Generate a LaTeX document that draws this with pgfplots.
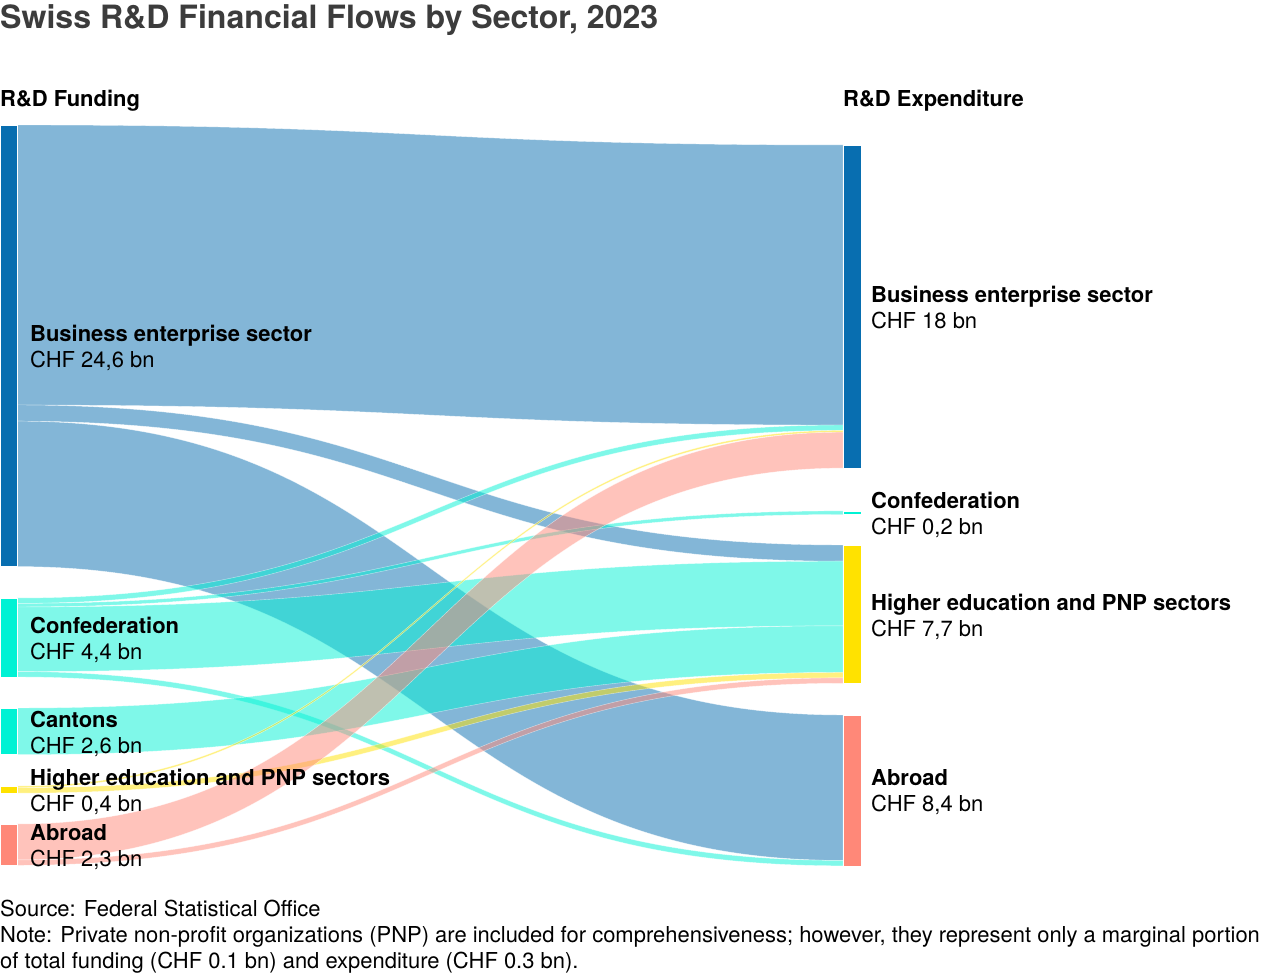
\documentclass[border=0pt]{standalone}
\usepackage{pgfplots}
\pgfplotsset{compat=1.18}
\usepackage{fontspec}
\setmainfont{TeX Gyre Heros}
\definecolor{cBus}{RGB}{8,110,176}
\definecolor{cGov}{RGB}{0,242,212}
\definecolor{cHE}{RGB}{255,226,0}
\definecolor{cAbr}{RGB}{255,136,120}
\definecolor{titlegray}{RGB}{60,60,60}

% band: colour, source top, source bottom, target top, target bottom (CHF bn)
\newcommand{\flow}[5]{%
  \fill[#1, fill opacity=0.5, draw=white, draw opacity=0.6, line width=0.4pt]
    (axis cs:17,#2) .. controls (axis cs:430,#2) and (axis cs:430,#4) .. (axis cs:843,#4)
    -- (axis cs:843,#5) .. controls (axis cs:430,#5) and (axis cs:430,#3) .. (axis cs:17,#3)
    -- cycle;}
\newcommand{\lbl}{\fontsize{22.05}{26}\selectfont}

\begin{document}
\begin{tikzpicture}
\begin{axis}[
    name=ax,
    hide axis,
    scale only axis,
    width=1280bp, height=974bp,
    xmin=0, xmax=1280,
    ymin=-6.964, ymax=47.298,
    y dir=reverse,
    clip=false,
]
\coordinate (O) at (axis cs:0,-6.964);

% flows
\flow{cBus}{0}{15.6}{1.114}{16.714}
\flow{cBus}{15.6}{16.5}{23.40}{24.30}
\flow{cBus}{16.5}{24.6}{32.87}{40.97}
\flow{cGov}{26.35}{26.65}{16.714}{17.014}
\flow{cGov}{26.65}{26.85}{21.5}{21.7}
\flow{cGov}{26.85}{30.45}{24.30}{27.90}
\flow{cGov}{30.45}{30.75}{40.97}{41.27}
\flow{cGov}{32.48}{35.08}{27.90}{30.50}
\flow{cHE}{36.82}{36.92}{17.014}{17.114}
\flow{cHE}{36.92}{37.22}{30.50}{30.80}
\flow{cAbr}{38.94}{40.94}{17.114}{19.114}
\flow{cAbr}{40.94}{41.24}{30.80}{31.10}

% funding nodes (left)
\addplot[fill=cBus, draw=white, line width=0.6pt] coordinates {(0,0) (17,0) (17,24.6) (0,24.6)} -- cycle;
\addplot[fill=cGov, draw=white, line width=0.6pt] coordinates {(0,26.35) (17,26.35) (17,30.75) (0,30.75)} -- cycle;
\addplot[fill=cGov, draw=white, line width=0.6pt] coordinates {(0,32.48) (17,32.48) (17,35.08) (0,35.08)} -- cycle;
\addplot[fill=cHE, draw=white, line width=0.6pt] coordinates {(0,36.82) (17,36.82) (17,37.22) (0,37.22)} -- cycle;
\addplot[fill=cAbr, draw=white, line width=0.6pt] coordinates {(0,38.94) (17,38.94) (17,41.24) (0,41.24)} -- cycle;
% expenditure nodes (right)
\addplot[fill=cBus, draw=white, line width=0.6pt] coordinates {(843,1.114) (861,1.114) (861,19.114) (843,19.114)} -- cycle;
\addplot[fill=cGov, draw=white, line width=0.6pt] coordinates {(843,21.5) (861,21.5) (861,21.7) (843,21.7)} -- cycle;
\addplot[fill=cHE, draw=white, line width=0.6pt] coordinates {(843,23.40) (861,23.40) (861,31.10) (843,31.10)} -- cycle;
\addplot[fill=cAbr, draw=white, line width=0.6pt] coordinates {(843,32.87) (861,32.87) (861,41.27) (843,41.27)} -- cycle;
\end{axis}

\begin{scope}[shift={(O)}, x=1bp, y=-1bp]
  \node[anchor=base west, inner sep=0pt, text=titlegray, font=\fontsize{32.2}{36}\selectfont\bfseries] at (0,29) {Swiss R\&D Financial Flows by Sector, 2023};
  \begin{scope}[every node/.style={anchor=base west, inner sep=0pt, font=\lbl}]
    \node[font=\lbl\bfseries] at (0,107) {R\&D Funding};
    \node[font=\lbl\bfseries] at (843,107) {R\&D Expenditure};
    % left labels
    \node[font=\lbl\bfseries] at (30,342) {Business enterprise sector};
    \node at (30,368) {CHF 24,6 bn};
    \node[font=\lbl\bfseries] at (30,634) {Confederation};
    \node at (30,660) {CHF 4,4 bn};
    \node[font=\lbl\bfseries] at (30,728) {Cantons};
    \node at (30,754) {CHF 2,6 bn};
    \node[font=\lbl\bfseries] at (30,786) {Higher education and PNP sectors};
    \node at (30,812) {CHF 0,4 bn};
    \node[font=\lbl\bfseries] at (30,841) {Abroad};
    \node at (30,867) {CHF 2,3 bn};
    % right labels
    \node[font=\lbl\bfseries] at (871,303) {Business enterprise sector};
    \node at (871,329) {CHF 18 bn};
    \node[font=\lbl\bfseries] at (871,509) {Confederation};
    \node at (871,535) {CHF 0,2 bn};
    \node[font=\lbl\bfseries] at (871,611) {Higher education and PNP sectors};
    \node at (871,637) {CHF 7,7 bn};
    \node[font=\lbl\bfseries] at (871,786) {Abroad};
    \node at (871,812) {CHF 8,4 bn};
    % footer
    \node at (0,917) {Source: Federal Statistical Office};
    \node at (0,943) {Note: Private non-profit organizations (PNP) are included for comprehensiveness; however, they represent only a marginal portion};
    \node at (0,969) {of total funding (CHF 0.1 bn) and expenditure (CHF 0.3 bn).};
  \end{scope}
\end{scope}
\pgfresetboundingbox
\path[use as bounding box] (O) rectangle ([xshift=1280bp,yshift=-974bp]O);
\end{tikzpicture}
\end{document}
